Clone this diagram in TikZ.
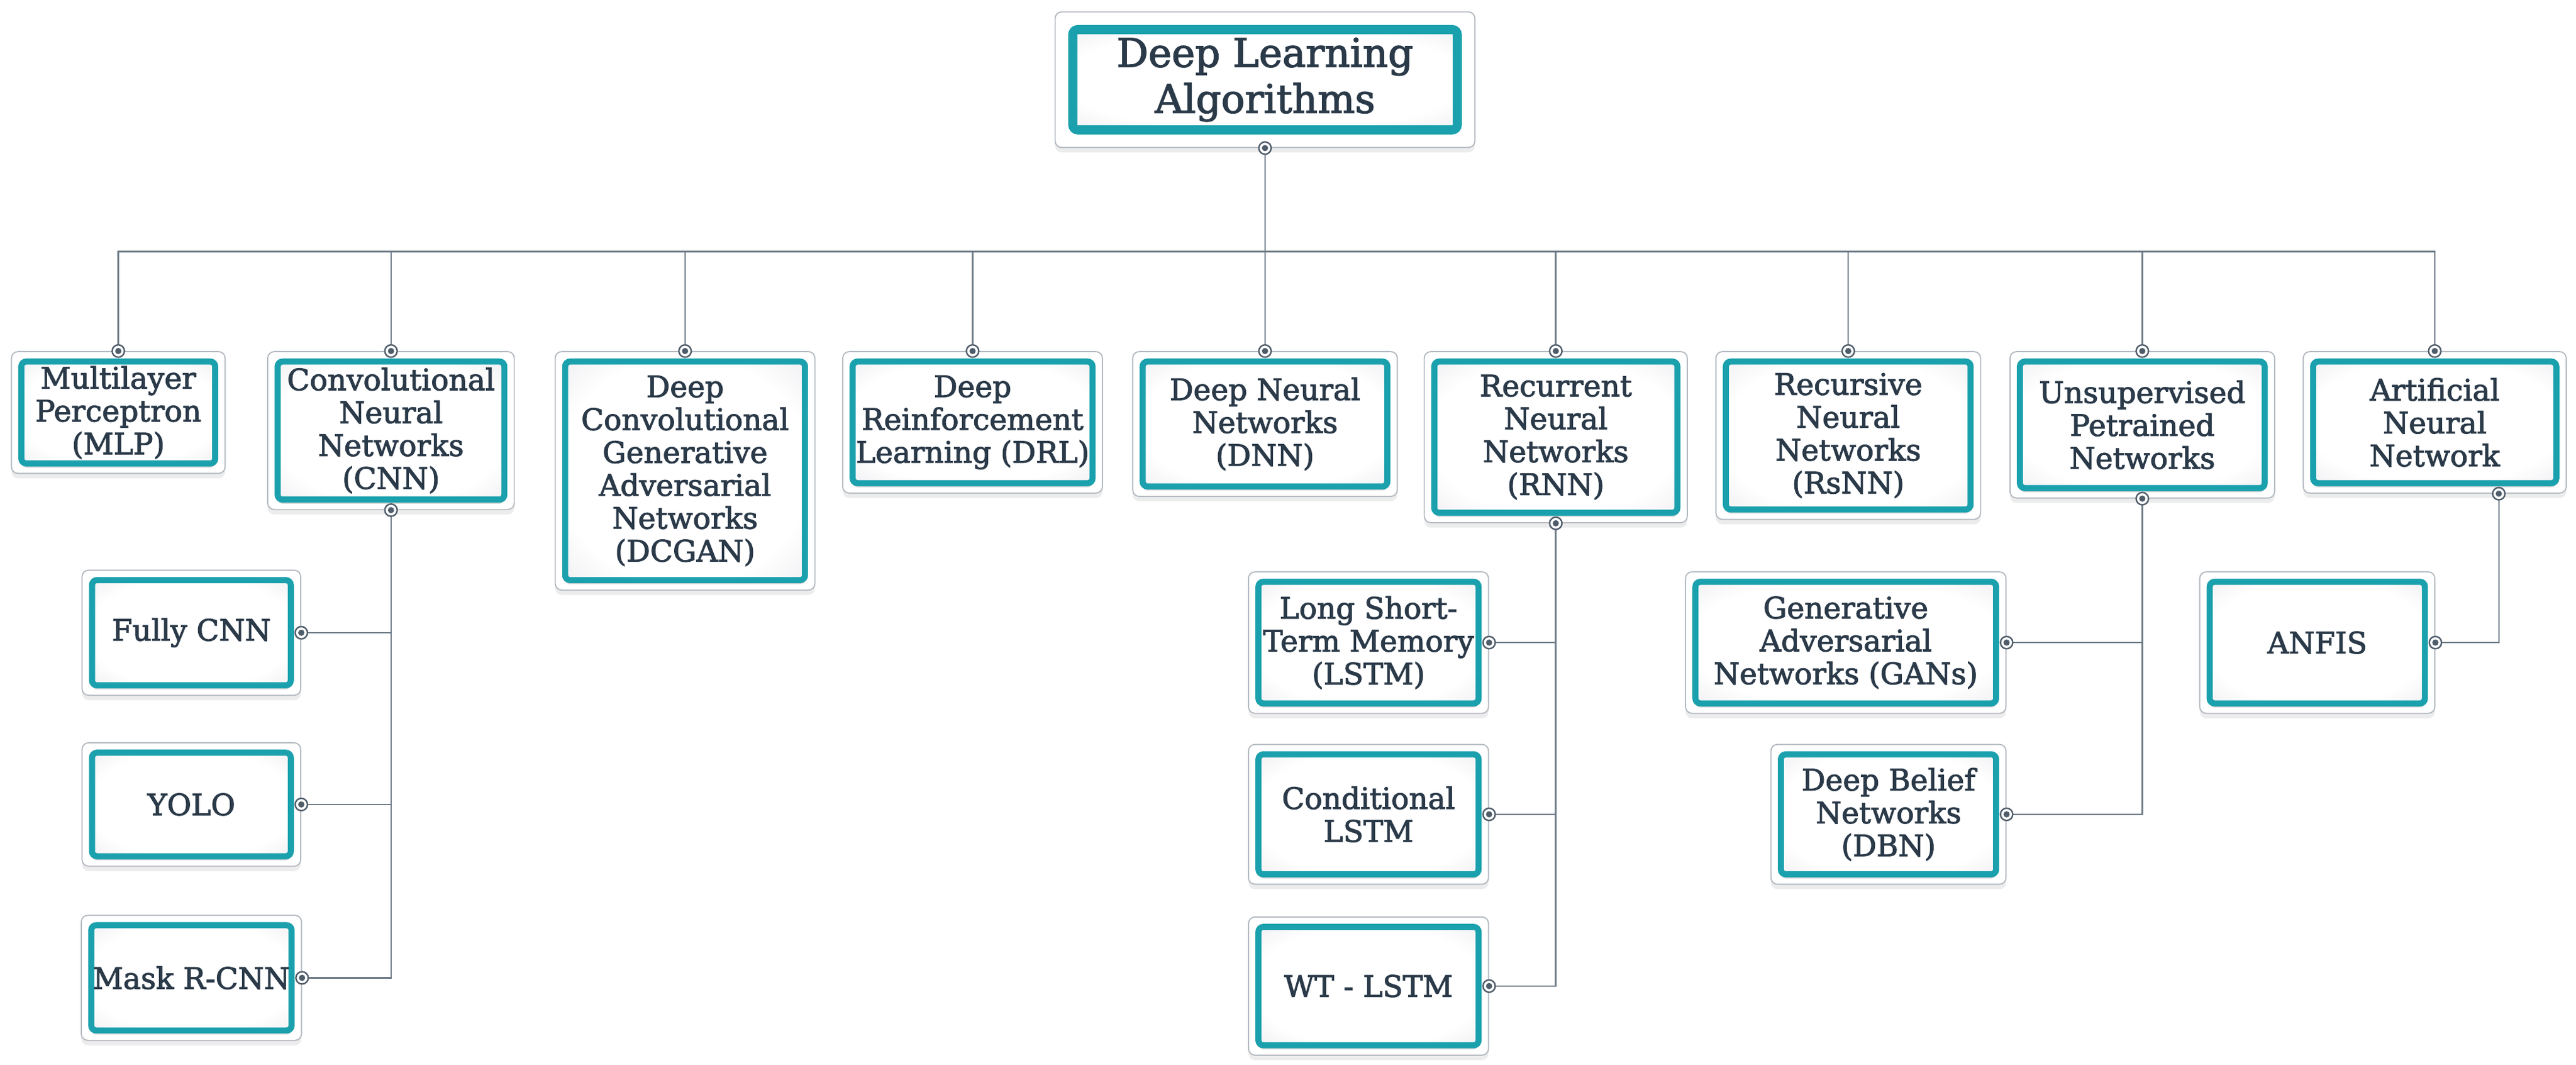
\documentclass[tikz,border=0pt]{standalone}
\usepackage{fontspec}
\newfontfamily\boxfont[FakeBold=2.2]{DejaVu Serif}
\usepackage{tikz}
\usetikzlibrary{fit,backgrounds,shadows}
\definecolor{algoteal}{HTML}{1AA1AD}
\definecolor{algoink}{HTML}{2B3A49}
\definecolor{linkgray}{HTML}{6E7C88}
\definecolor{pingray}{HTML}{4F5D6B}
\definecolor{framegray}{HTML}{B3B9C0}
\definecolor{glowgray}{HTML}{E4E4E9}
\definecolor{glowdark}{HTML}{D0D0D8}
\pgfdeclareradialshading{boxglow}{\pgfpoint{0bp}{0bp}}{color(0bp)=(white); color(26bp)=(white); color(44bp)=(glowgray); color(72bp)=(glowdark)}
\tikzset{
  algo/.style={rectangle, rounded corners=3pt, draw=algoteal, line width=3.7pt,
    shading=boxglow, align=center, text=algoink, inner sep=1pt,
    font={\boxfont\fontsize{18}{20}\selectfont},
    drop shadow={opacity=0.3, shadow xshift=0pt, shadow yshift=-2.5pt}},
  frame/.style={rectangle, rounded corners=4pt, draw=framegray, line width=0.7pt,
    fill=white, inner sep=4.2pt,
    drop shadow={opacity=0.15, shadow xshift=0pt, shadow yshift=-3pt}},
  link/.style={draw=linkgray, line width=0.9pt},
  pin/.style={circle, draw=pingray, fill=white, line width=0.9pt, minimum size=7.5pt,
    inner sep=0pt, path picture={\fill[pingray] (path picture bounding box.center) circle (1.9pt);}}
}

\begin{document}
\begin{tikzpicture}[x=1pt,y=-1pt]
\useasboundingbox (0,0) rectangle (1568,648);
% root
\node[algo, line width=5.5pt, minimum width=234pt, minimum height=61pt,
  font={\boxfont\fontsize{24}{28}\selectfont}] (top) at (770,48.5) {Deep Learning\\Algorithms};
% first level
\node[algo, minimum width=118pt, minimum height=62pt] (mlp) at (72,251) {Multilayer\\Perceptron\\(MLP)};
\node[algo, minimum width=138pt, minimum height=84pt] (cnn) at (238,262) {Convolutional\\Neural\\Networks\\(CNN)};
\node[algo, minimum width=146pt, minimum height=133pt] (dcgan) at (417,286.5) {Deep\\Convolutional\\Generative\\Adversarial\\Networks\\(DCGAN)};
\node[algo, minimum width=146pt, minimum height=74pt] (drl) at (592,257) {Deep\\Reinforcement\\Learning (DRL)};
\node[algo, minimum width=149pt, minimum height=76pt] (dnn) at (770,258) {Deep Neural\\Networks\\(DNN)};
\node[algo, minimum width=148pt, minimum height=92pt] (rnn) at (947,266) {Recurrent\\Neural\\Networks\\(RNN)};
\node[algo, minimum width=149pt, minimum height=90pt] (rsnn) at (1125,265) {Recursive\\Neural\\Networks\\(RsNN)};
\node[algo, minimum width=149pt, minimum height=77pt] (ups) at (1304,258.5) {Unsupervised\\Petrained\\Networks};
\node[algo, minimum width=148pt, minimum height=74pt] (ann) at (1482,257) {Artificial\\Neural\\Network};
% second level
\node[algo, minimum width=121pt, minimum height=64pt] (fcnn) at (116.5,385) {Fully CNN};
\node[algo, minimum width=121pt, minimum height=63pt] (yolo) at (116.5,489.5) {YOLO};
\node[algo, minimum width=121pt, minimum height=64pt] (mask) at (116.5,595) {Mask R-CNN};
\node[algo, minimum width=134pt, minimum height=74pt] (lstm) at (833,391) {Long Short-\\Term Memory\\(LSTM)};
\node[algo, minimum width=134pt, minimum height=73pt] (clstm) at (833,495.5) {Conditional\\LSTM};
\node[algo, minimum width=134pt, minimum height=72pt] (wt) at (833,600) {WT - LSTM};
\node[algo, minimum width=183pt, minimum height=74pt] (gans) at (1123.5,391) {Generative\\Adversarial\\Networks (GANs)};
\node[algo, minimum width=131pt, minimum height=73pt] (dbn) at (1149.5,495.5) {Deep Belief\\Networks\\(DBN)};
\node[algo, minimum width=131pt, minimum height=74pt] (anfis) at (1410.5,391) {ANFIS};

\begin{scope}[on background layer]
\node[frame, fit=(top), inner sep=8pt] (top-f) {};
\foreach \n in {mlp,cnn,dcgan,drl,dnn,rnn,rsnn,ups,ann,fcnn,yolo,mask,lstm,clstm,wt,gans,dbn,anfis}
  \node[frame, fit=(\n)] (\n-f) {};
\end{scope}

\coordinate (bus) at (770,153);
\coordinate (ann-out) at ([xshift=39pt]ann-f.south);
\foreach \n in {mlp,cnn,dcgan,drl,dnn,rnn,rsnn,ups,ann}
  \draw[link] (top-f.south) -- (bus) -| (\n-f.north);
\foreach \n in {fcnn,yolo,mask}
  \draw[link] (cnn-f.south) |- (\n-f.east);
\foreach \n in {lstm,clstm,wt}
  \draw[link] (rnn-f.south) |- (\n-f.east);
\foreach \n in {gans,dbn}
  \draw[link] (ups-f.south) |- (\n-f.east);
\draw[link] (ann-out) |- (anfis-f.east);

% connector dots
\foreach \p [count=\i] in {top-f.south,mlp-f.north,cnn-f.north,dcgan-f.north,drl-f.north,dnn-f.north,rnn-f.north,rsnn-f.north,ups-f.north,ann-f.north,cnn-f.south,rnn-f.south,ups-f.south,ann-out,fcnn-f.east,yolo-f.east,mask-f.east,lstm-f.east,clstm-f.east,wt-f.east,gans-f.east,dbn-f.east,anfis-f.east}
  \node[pin] (pin\i) at (\p) {};
\end{tikzpicture}
\end{document}
